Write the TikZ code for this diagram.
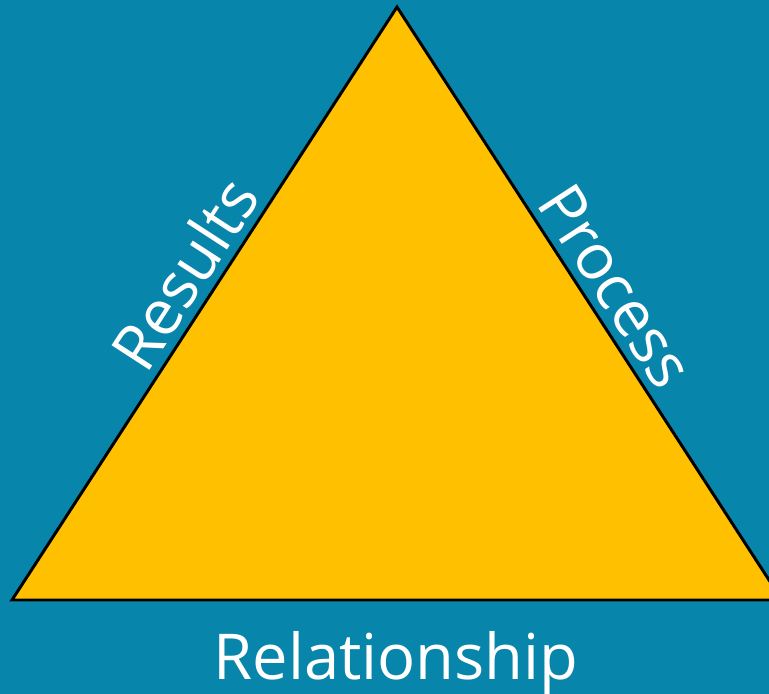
\documentclass[tikz,border=0pt]{standalone}
\usepackage{fontspec}
\setmainfont{Open Sans}
\usepackage{tikz}

\definecolor{bgteal}{RGB}{8,133,170}
\definecolor{gold}{RGB}{255,192,0}

\begin{document}
\begin{tikzpicture}[x=0.02cm, y=-0.02cm]
        \tikzset{label/.style={text=white, font=\fontsize{36}{40}\selectfont, inner sep=2pt}}
        \fill [bgteal] (0,0) rectangle (769,694);
        \useasboundingbox (0,0) rectangle (769,694);
        \clip (0,0) rectangle (769,694);
        \coordinate (top) at (397,7);
        \coordinate (left) at (12,600);
        \coordinate (right) at (782,600);
        \draw [fill=gold, line width=1.7pt, line join=miter] (top) -- (left) -- (right) -- cycle;
        \path (left) -- (top) node [label, pos=0.52, sloped, above=3pt] (results) {Results};
        \path (top) -- (right) node [label, pos=0.5, sloped, above=3pt] (process) {Process};
        \node [label, anchor=base] (relationship) at (396,679) {Relationship};
    \end{tikzpicture}
\end{document}
